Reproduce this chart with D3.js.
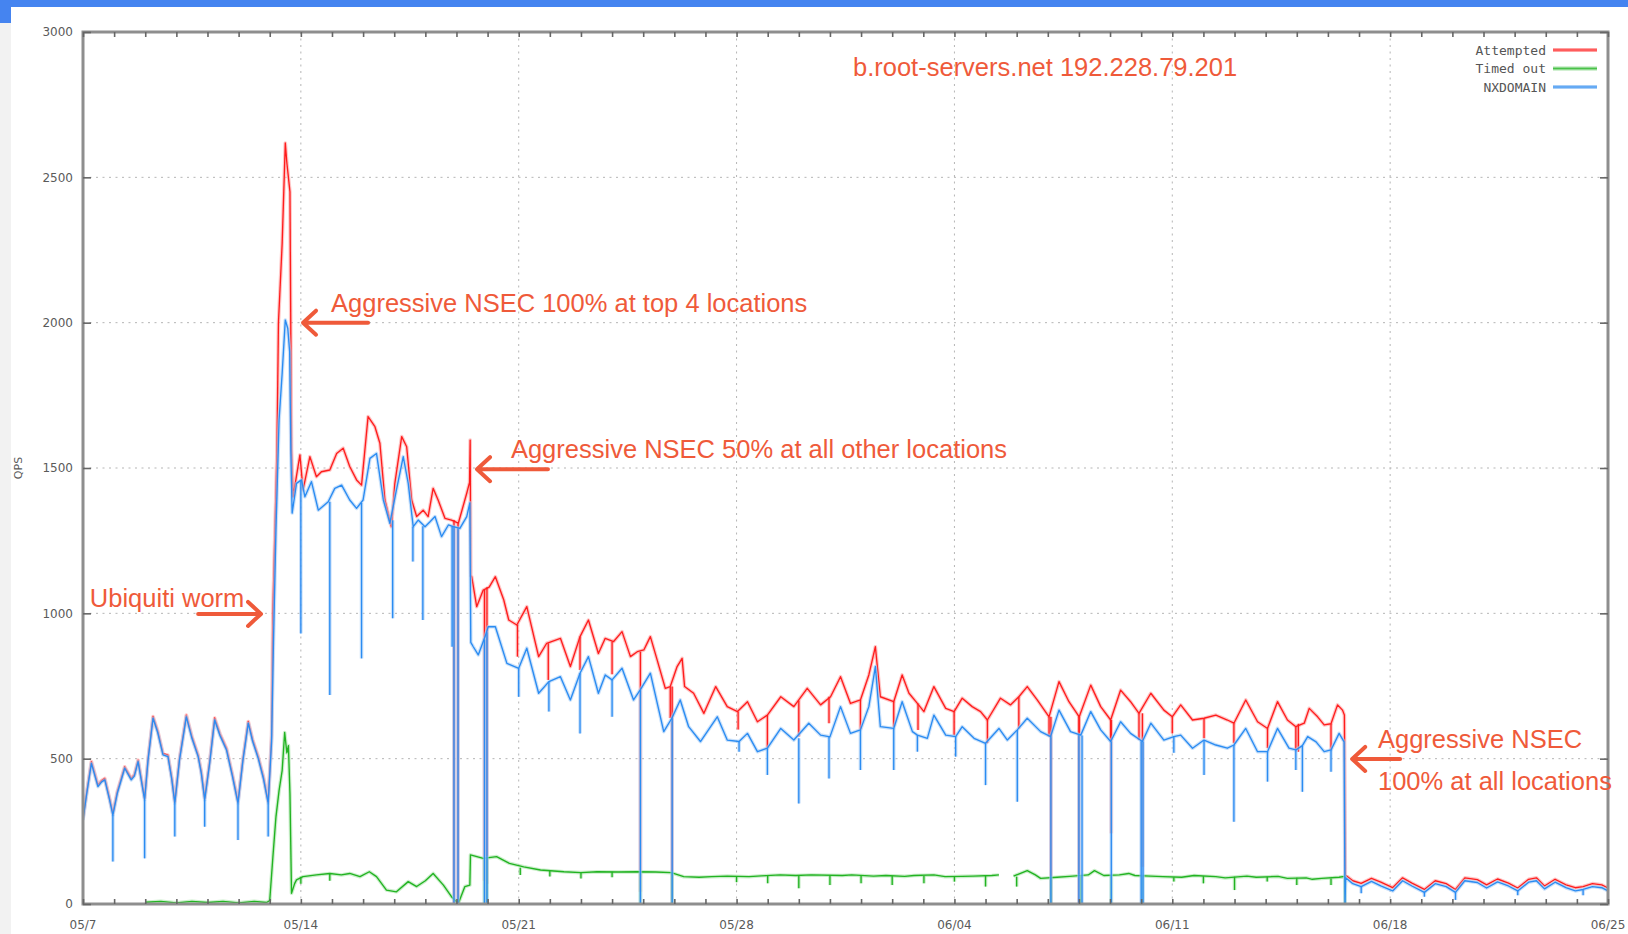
<!DOCTYPE html>
<meta charset="utf-8">
<head>
  <title>b.root-servers.net QPS</title>
</head>
<style>
  body { margin: 0; background: #fff; }
  svg { display: block; }
  .tick-label { font-family: "DejaVu Sans", sans-serif; font-size: 12px; fill: #5a5a5a; }
  .legend-label { font-family: "DejaVu Sans Mono", monospace; font-size: 13px; fill: #555; }
  .note { font-family: "Liberation Sans", Arial, sans-serif; font-size: 25.5px; fill: #ef5a3a; }
</style>
<body>
<svg id="chart" width="1628" height="934"></svg>

<script src="https://cdnjs.cloudflare.com/ajax/libs/d3/7.8.5/d3.min.js"></script>
<script>
// days since 05/07, value in QPS
var xTickDays = [0, 7, 14, 21, 28, 35, 42, 49];
var xTickLabels = ["05/7", "05/14", "05/21", "05/28", "06/04", "06/11", "06/18", "06/25"];
var yTicks = [0, 500, 1000, 1500, 2000, 2500, 3000];

var seriesNames = ["Attempted", "Timed out", "NXDOMAIN"];

var attempted = [
  [0, 295], [0.12, 385], [0.27, 490], [0.48, 410], [0.6, 425], [0.7, 432], [0.85, 365], [0.96, 312],
  [1.1, 386], [1.34, 472], [1.55, 432], [1.65, 445], [1.77, 495], [1.98, 364], [2.09, 500], [2.25, 645],
  [2.4, 596], [2.57, 518], [2.73, 512], [2.85, 436], [2.95, 352], [3.1, 500], [3.32, 650], [3.5, 576],
  [3.7, 512], [3.8, 456], [3.91, 364], [4.07, 490], [4.23, 640], [4.4, 586], [4.61, 536], [4.8, 446],
  [4.98, 352], [5.14, 500], [5.31, 628], [5.45, 566], [5.63, 507], [5.8, 436], [5.95, 352], [6.06, 580],
  [6.1, 1000], [6.23, 1551], [6.28, 2000], [6.4, 2274], [6.5, 2618], [6.55, 2550], [6.65, 2450], [6.7, 1562],
  [6.75, 1401], [6.97, 1545], [7.07, 1424], [7.29, 1539], [7.5, 1470], [7.66, 1487], [7.93, 1493], [8.15, 1550],
  [8.36, 1568], [8.57, 1505], [8.79, 1459], [8.95, 1441], [9.16, 1677], [9.38, 1642], [9.54, 1585], [9.7, 1390],
  [9.91, 1298], [10.02, 1447], [10.24, 1608], [10.4, 1573], [10.56, 1390], [10.72, 1333], [10.93, 1355], [11.09, 1333],
  [11.25, 1430], [11.41, 1390], [11.63, 1327], [11.84, 1321], [12.06, 1310], [12.33, 1413], [12.42, 1450], [12.44, 1596],
  [12.46, 1130], [12.49, 1126], [12.65, 1023], [12.86, 1080], [13.05, 1090], [13.25, 1126], [13.52, 1046], [13.68, 977],
  [13.94, 960], [14.26, 1023], [14.64, 851], [14.9, 897], [15.34, 914], [15.66, 817], [15.97, 920], [16.24, 977],
  [16.56, 862], [16.78, 914], [17.05, 903], [17.32, 937], [17.59, 851], [17.81, 868], [18.02, 874], [18.23, 920],
  [18.45, 839], [18.71, 742], [18.87, 748], [19.09, 817], [19.25, 845], [19.33, 748], [19.62, 725], [19.95, 656],
  [20.33, 748], [20.7, 679], [21.03, 662], [21.35, 696], [21.67, 627], [21.99, 650], [22.42, 713], [22.84, 679],
  [23.27, 742], [23.7, 685], [24.02, 713], [24.34, 782], [24.66, 690], [24.98, 702], [25.25, 788], [25.46, 885],
  [25.62, 713], [26.05, 696], [26.32, 788], [26.54, 725], [26.81, 690], [27.02, 662], [27.34, 748], [27.72, 673],
  [27.99, 662], [28.25, 708], [28.57, 679], [28.84, 662], [29.06, 633], [29.48, 708], [29.8, 685], [30.07, 713],
  [30.34, 748], [30.66, 702], [31.04, 644], [31.36, 765], [31.68, 696], [32.01, 644], [32.38, 753], [32.7, 679],
  [33.02, 633], [33.34, 736], [33.66, 696], [33.93, 656], [34.31, 725], [34.73, 667], [35.0, 644], [35.27, 685],
  [35.65, 633], [36.02, 639], [36.4, 650], [36.77, 633], [36.98, 622], [37.36, 702], [37.74, 627], [38.06, 604],
  [38.38, 696], [38.7, 633], [38.97, 610], [39.24, 622], [39.4, 673], [39.67, 644], [39.88, 616], [40.1, 620],
  [40.31, 685], [40.47, 667], [40.53, 650], [40.56, 100], [40.8, 80], [41.07, 71], [41.4, 88], [41.7, 75],
  [42.08, 56], [42.4, 90], [42.7, 72], [43.1, 50], [43.45, 80], [43.8, 70], [44.1, 50], [44.4, 90],
  [44.8, 84], [45.1, 66], [45.45, 86], [45.8, 72], [46.1, 55], [46.45, 85], [46.7, 90], [46.96, 62],
  [47.3, 85], [47.65, 66], [47.95, 56], [48.2, 60], [48.5, 70], [48.8, 66], [49.0, 55]
];

var timedOut = [
  [2.0, 6], [2.5, 9], [3.0, 4], [3.5, 9], [4.0, 5], [4.5, 9], [5.0, 4], [5.5, 9], [5.9, 5], [6.0, 12],
  [6.1, 160], [6.2, 300], [6.3, 390], [6.4, 460], [6.48, 590], [6.55, 520], [6.6, 545], [6.65, 380], [6.7, 37],
  [6.8, 70], [6.86, 83], [7.07, 94], [7.5, 100], [7.93, 105], [8.3, 100], [8.57, 105], [8.9, 94], [9.2, 111],
  [9.43, 94], [9.75, 48], [10.07, 42], [10.45, 77], [10.72, 60], [11.0, 80], [11.25, 105], [11.58, 65],
  [11.84, 25], [12.06, 2], [12.27, 60], [12.43, 65], [12.45, 169], [12.86, 157], [13.29, 163], [13.7, 140],
  [14.16, 128], [14.7, 117], [15.45, 111], [16.0, 108], [16.52, 111], [17.2, 110], [17.81, 111], [18.4, 110],
  [18.9, 108], [19.3, 94], [19.8, 92], [20.2, 94], [20.7, 96], [21.4, 94], [21.8, 97], [22.4, 100], [22.9, 98],
  [23.4, 100], [24.4, 98], [24.7, 100], [25.4, 96], [25.8, 98], [26.4, 95], [26.7, 98], [27.34, 100], [27.7, 94],
  [28.25, 95], [28.6, 96], [29.2, 98], [29.43, 100], [29.5, null], [29.9, 96], [30.34, 115], [30.6, 100],
  [30.77, 88], [31.3, 92], [31.7, 95], [32.3, 100], [32.5, 115], [32.8, 98], [33.3, 100], [33.6, 105], [33.8, 98],
  [34.3, 96], [34.7, 94], [35.3, 92], [35.7, 98], [36.4, 94], [36.7, 90], [37.4, 96], [37.7, 92], [38.4, 95],
  [38.7, 88], [39.3, 90], [39.5, 85], [39.8, 88], [40.36, 92], [40.54, 95], [40.55, 0]
];

var nxdomain = [
  [0, 289], [0.12, 380], [0.27, 484], [0.48, 404], [0.6, 420], [0.7, 427], [0.85, 360], [0.96, 306],
  [1.1, 380], [1.34, 467], [1.55, 427], [1.65, 440], [1.77, 490], [1.98, 358], [2.09, 495], [2.25, 639],
  [2.4, 590], [2.57, 513], [2.73, 507], [2.85, 430], [2.95, 346], [3.1, 495], [3.32, 644], [3.5, 570],
  [3.7, 507], [3.8, 450], [3.91, 358], [4.07, 484], [4.23, 633], [4.4, 580], [4.61, 530], [4.8, 440],
  [4.98, 346], [5.14, 495], [5.31, 622], [5.45, 560], [5.63, 501], [5.8, 430], [5.95, 346], [6.06, 560],
  [6.12, 900], [6.2, 1290], [6.3, 1665], [6.4, 1827], [6.5, 2009], [6.58, 1980], [6.64, 1900], [6.68, 1550],
  [6.72, 1345], [6.86, 1447], [7.02, 1459], [7.13, 1401], [7.34, 1453], [7.56, 1355], [7.88, 1384], [8.09, 1430],
  [8.31, 1441], [8.57, 1390], [8.79, 1361], [9.0, 1390], [9.22, 1533], [9.43, 1550], [9.65, 1390], [9.86, 1310],
  [10.07, 1424], [10.29, 1539], [10.45, 1447], [10.61, 1298], [10.77, 1321], [10.99, 1298], [11.15, 1315], [11.31, 1333],
  [11.52, 1264], [11.74, 1304], [11.9, 1298], [12.11, 1292], [12.33, 1333], [12.43, 1380], [12.46, 900], [12.54, 885],
  [12.7, 857], [12.92, 920], [13.02, 954], [13.25, 954], [13.62, 828], [14.0, 811], [14.26, 880], [14.64, 725],
  [14.97, 765], [15.34, 782], [15.66, 702], [15.97, 794], [16.24, 851], [16.56, 725], [16.78, 788], [17.0, 771],
  [17.32, 811], [17.69, 702], [17.9, 736], [18.23, 794], [18.66, 593], [18.92, 639], [19.19, 702], [19.46, 610],
  [19.84, 559], [20.38, 644], [20.7, 564], [21.08, 559], [21.35, 587], [21.67, 524], [21.99, 536], [22.42, 604],
  [22.84, 564], [23.32, 622], [23.7, 581], [24.0, 575], [24.34, 679], [24.66, 587], [24.98, 599], [25.25, 679],
  [25.46, 817], [25.62, 610], [26.05, 604], [26.32, 696], [26.65, 593], [26.81, 581], [27.13, 570], [27.34, 650],
  [27.72, 581], [28.04, 576], [28.25, 610], [28.63, 570], [29.0, 553], [29.43, 604], [29.7, 564], [30.02, 599],
  [30.34, 639], [30.77, 593], [31.09, 576], [31.36, 667], [31.73, 593], [32.06, 581], [32.38, 662], [32.7, 599],
  [33.02, 559], [33.34, 627], [33.66, 587], [34.04, 559], [34.31, 622], [34.73, 564], [35.05, 576], [35.27, 581],
  [35.65, 536], [36.02, 564], [36.4, 547], [36.77, 536], [36.98, 547], [37.36, 604], [37.74, 524], [38.06, 524],
  [38.38, 604], [38.75, 536], [38.97, 530], [39.18, 545], [39.35, 576], [39.62, 558], [39.88, 524], [40.1, 530],
  [40.36, 587], [40.52, 558], [40.55, 0], [40.57, 90], [40.8, 70], [41.07, 60], [41.4, 78], [41.7, 62],
  [42.08, 45], [42.4, 80], [42.7, 62], [43.1, 40], [43.45, 70], [43.8, 60], [44.1, 40], [44.4, 80],
  [44.8, 74], [45.1, 55], [45.45, 76], [45.8, 62], [46.1, 45], [46.45, 75], [46.7, 80], [46.96, 52],
  [47.3, 75], [47.65, 56], [47.95, 45], [48.2, 50], [48.5, 60], [48.8, 56], [49.0, 45]
];

// short drops: [day, from, to]
var attemptedDips = [
  [11.92, 1321, 0], [12.05, 1310, 0], [12.9, 1080, 80], [12.98, 1090, 70], [13.96, 960, 851], [14.95, 897, 771],
  [15.97, 920, 805], [17.0, 903, 790], [17.91, 868, 42], [18.87, 748, 640], [18.93, 748, 0], [21.05, 662, 600],
  [21.99, 650, 536], [23.0, 700, 576], [23.97, 713, 622], [24.98, 702, 600], [26.05, 696, 610], [26.83, 690, 599],
  [27.99, 662, 581], [29.06, 633, 553], [30.07, 713, 604], [31.04, 644, 576], [31.1, 644, 0], [32.0, 650, 0],
  [32.01, 644, 581], [33.02, 633, 564], [33.04, 633, 243], [33.93, 656, 564], [34.04, 656, 128], [35.0, 644, 587],
  [36.02, 639, 570], [36.98, 622, 553], [38.06, 604, 536], [38.97, 610, 530], [39.05, 620, 524], [40.1, 620, 530]
];

var timedOutDips = [
  [7.0, 94, 70], [7.93, 105, 80], [12.9, 160, 0], [12.98, 160, 0], [14.05, 125, 100], [15.0, 115, 95],
  [16.0, 108, 88], [17.0, 111, 92], [17.91, 111, 0], [18.93, 108, 0], [21.0, 94, 75], [22.0, 97, 71],
  [23.0, 98, 54], [24.0, 98, 65], [25.0, 98, 71], [26.0, 96, 65], [27.02, 96, 71], [28.0, 95, 77],
  [29.0, 98, 60], [30.0, 94, 60], [31.1, 94, 0], [32.06, 98, 0], [33.04, 100, 0], [34.04, 98, 0],
  [35.05, 92, 77], [36.0, 96, 71], [37.0, 94, 48], [38.05, 94, 77], [39.0, 90, 65], [40.1, 88, 65]
];

var nxdomainDips = [
  [0.96, 306, 146], [1.98, 358, 157], [2.95, 346, 232], [3.91, 358, 266], [4.98, 346, 220], [5.95, 346, 232],
  [7.0, 1459, 931], [7.93, 1384, 719], [8.95, 1380, 845], [9.95, 1320, 983], [10.6, 1298, 1178], [10.92, 1300, 977],
  [11.86, 1300, 885], [11.92, 1300, 0], [12.05, 1292, 0], [12.9, 910, 0], [12.98, 935, 0], [14.0, 811, 713],
  [14.97, 765, 662], [15.97, 794, 587], [17.0, 771, 644], [17.91, 736, 0], [18.93, 639, 0], [21.08, 559, 524],
  [21.99, 536, 444], [23.0, 570, 346], [23.97, 578, 432], [24.98, 599, 461], [26.05, 604, 461], [26.81, 581, 524],
  [28.04, 576, 507], [29.0, 553, 409], [30.02, 599, 352], [31.1, 576, 0], [32.0, 585, 0], [32.1, 580, 0],
  [33.04, 559, 0], [34.0, 560, 0], [34.06, 559, 0], [35.05, 576, 520], [36.02, 564, 444], [36.98, 547, 283],
  [38.06, 524, 421], [38.97, 530, 461], [39.18, 545, 386], [40.1, 530, 455], [41.07, 60, 37], [43.1, 40, 25],
  [44.1, 40, 14], [46.1, 45, 30], [48.2, 50, 30]
];

var title = "b.root-servers.net 192.228.79.201";
// annotations placed in data space: text anchor, arrow tail -> arrow tip
var notes = [
  { lines: ["Aggressive NSEC 100% at top 4 locations"], day: 7.97, qps: 2037, from: [9.16, 2000], to: [7.07, 2000] },
  { lines: ["Aggressive NSEC 50% at all other locations"], day: 13.75, qps: 1534, from: [14.94, 1496], to: [12.66, 1496] },
  { lines: ["Ubiquiti worm"], day: 0.22, qps: 1022, from: [3.7, 998], to: [5.72, 998] },
  { lines: ["Aggressive NSEC", "100% at all locations"], day: 41.61, qps: 537, from: [42.32, 499], to: [40.78, 499] }
];

var colors = { Attempted: "#ff1f1f", "Timed out": "#22b322", NXDOMAIN: "#2b8cf2" };
var halos = { Attempted: "#ffa0a0", "Timed out": "#a6e2a6", NXDOMAIN: "#a6cdf7" };

var svg = d3.select("#chart");

var defs = svg.append("defs");
defs.append("filter").attr("id", "soft").append("feGaussianBlur").attr("stdDeviation", 0.55);

// slide chrome around the screenshot
svg.append("rect").attr("x", 0).attr("y", 0).attr("width", 1628).attr("height", 934).attr("fill", "#fff");
svg.append("rect").attr("x", 0).attr("y", 0).attr("width", 11).attr("height", 934).attr("fill", "#f2f2f2");
svg.append("rect").attr("x", 0).attr("y", 0).attr("width", 11).attr("height", 23).attr("fill", "#4584f0");
svg.append("rect").attr("x", 0).attr("y", 0).attr("width", 1628).attr("height", 7).attr("fill", "#4584f0");

var plotLeft = 83, plotRight = 1608, plotTop = 32, plotBottom = 904;
var x = d3.scaleLinear().domain([0, 49]).range([plotLeft, plotRight]);
var y = d3.scaleLinear().domain([0, 3000]).range([plotBottom, plotTop]);

defs.append("clipPath").attr("id", "plotclip")
  .append("rect").attr("x", plotLeft).attr("y", plotTop)
  .attr("width", plotRight - plotLeft).attr("height", plotBottom - plotTop);

// grid
var grid = svg.append("g").attr("stroke", "#b5b5b5").attr("stroke-width", 1).attr("stroke-dasharray", "2,4.5");
grid.selectAll("line.h").data(yTicks.slice(1, -1)).join("line").attr("class", "h")
  .attr("x1", plotLeft).attr("x2", plotRight).attr("y1", d => y(d)).attr("y2", d => y(d));
grid.selectAll("line.v").data(xTickDays.slice(1, -1)).join("line").attr("class", "v")
  .attr("y1", plotTop).attr("y2", plotBottom).attr("x1", d => x(d)).attr("x2", d => x(d));

// series
var line = d3.line()
  .defined(d => d[1] != null)
  .x(d => x(d[0]))
  .y(d => y(d[1]));

var plot = svg.append("g").attr("clip-path", "url(#plotclip)")
  .append("g").attr("filter", "url(#soft)");

function drawSeries(name, data, dips) {
  var g = plot.append("g").attr("fill", "none").attr("stroke-linejoin", "round");
  [[halos[name], 3.6, 0.6], [colors[name], 1.35, 1]].forEach(function(s) {
    g.append("path").datum(data).attr("d", line)
      .attr("stroke", s[0]).attr("stroke-width", s[1]).attr("stroke-opacity", s[2]);
    g.append("g").selectAll("line").data(dips).join("line")
      .attr("x1", d => x(d[0])).attr("x2", d => x(d[0]))
      .attr("y1", d => y(d[1])).attr("y2", d => y(d[2]))
      .attr("stroke", s[0]).attr("stroke-width", s[1]).attr("stroke-opacity", s[2]);
  });
}

drawSeries("Attempted", attempted, attemptedDips);
drawSeries("Timed out", timedOut, timedOutDips);
drawSeries("NXDOMAIN", nxdomain, nxdomainDips);

// border and ticks
svg.append("rect").attr("x", plotLeft).attr("y", plotTop)
  .attr("width", plotRight - plotLeft).attr("height", plotBottom - plotTop)
  .attr("fill", "none").attr("stroke", "#8e8e8e").attr("stroke-width", 3);

var dayTicks = d3.range(0, 50);
svg.append("g").attr("transform", "translate(0," + plotBottom + ")")
  .call(d3.axisBottom(x).tickValues(dayTicks).tickSize(-5).tickFormat(""));
svg.append("g").attr("transform", "translate(0," + plotTop + ")")
  .call(d3.axisTop(x).tickValues(dayTicks).tickSize(-5).tickFormat(""));
svg.append("g").attr("transform", "translate(" + plotLeft + ",0)")
  .call(d3.axisLeft(y).tickValues(yTicks).tickSize(-8).tickFormat(""));
svg.append("g").attr("transform", "translate(" + plotRight + ",0)")
  .call(d3.axisRight(y).tickValues(yTicks).tickSize(-8).tickFormat(""));
svg.selectAll(".domain").remove();
svg.selectAll(".tick line").attr("stroke", "#666").attr("stroke-width", 1.6);

// tick labels
svg.append("g").selectAll("text").data(yTicks).join("text")
  .attr("class", "tick-label").attr("x", plotLeft - 10).attr("y", d => y(d)).attr("dy", "0.35em")
  .attr("text-anchor", "end").text(d => d);
svg.append("g").selectAll("text").data(xTickDays).join("text")
  .attr("class", "tick-label").attr("x", d => x(d)).attr("y", 929)
  .attr("text-anchor", "middle").text((d, i) => xTickLabels[i]);
svg.append("text").attr("class", "tick-label").attr("transform", "translate(22,468) rotate(-90)")
  .attr("text-anchor", "middle").style("font-size", "11px").text("QPS");

// legend
var legend = svg.append("g").selectAll("g").data(seriesNames).join("g")
  .attr("transform", (d, i) => "translate(0," + (50 + i * 18.5) + ")");
legend.append("text").attr("class", "legend-label").attr("x", 1546).attr("dy", "0.35em")
  .attr("text-anchor", "end").text(d => d);
legend.append("line").attr("x1", 1553).attr("x2", 1597)
  .attr("stroke", d => halos[d]).attr("stroke-width", 4);
legend.append("line").attr("x1", 1553).attr("x2", 1597)
  .attr("stroke", d => colors[d]).attr("stroke-width", 1.3).attr("stroke-opacity", 0.7);

// title and annotations
svg.append("text").attr("class", "note").attr("x", 853).attr("y", 76).text(title);

var note = svg.append("g").selectAll("g").data(notes).join("g");
note.append("text").attr("class", "note")
  .attr("x", d => x(d.day)).attr("y", d => y(d.qps))
  .selectAll("tspan").data(d => d.lines).join("tspan")
  .attr("x", function() { return d3.select(this.parentNode).attr("x"); })
  .attr("dy", (d, i) => i === 0 ? 0 : 42).text(d => d);
note.append("path")
  .attr("fill", "none").attr("stroke", "#ef5a3a").attr("stroke-width", 4)
  .attr("stroke-linecap", "round").attr("stroke-linejoin", "round")
  .attr("d", function(d) {
    var x0 = x(d.from[0]), y0 = y(d.from[1]), x1 = x(d.to[0]), y1 = y(d.to[1]);
    var dir = x1 > x0 ? -1 : 1;
    return "M" + x0 + "," + y0 + "L" + x1 + "," + y1 +
      "M" + (x1 + dir * 13) + "," + (y1 - 12) + "L" + x1 + "," + y1 + "L" + (x1 + dir * 13) + "," + (y1 + 12);
  });
</script>
</body>
</html>
